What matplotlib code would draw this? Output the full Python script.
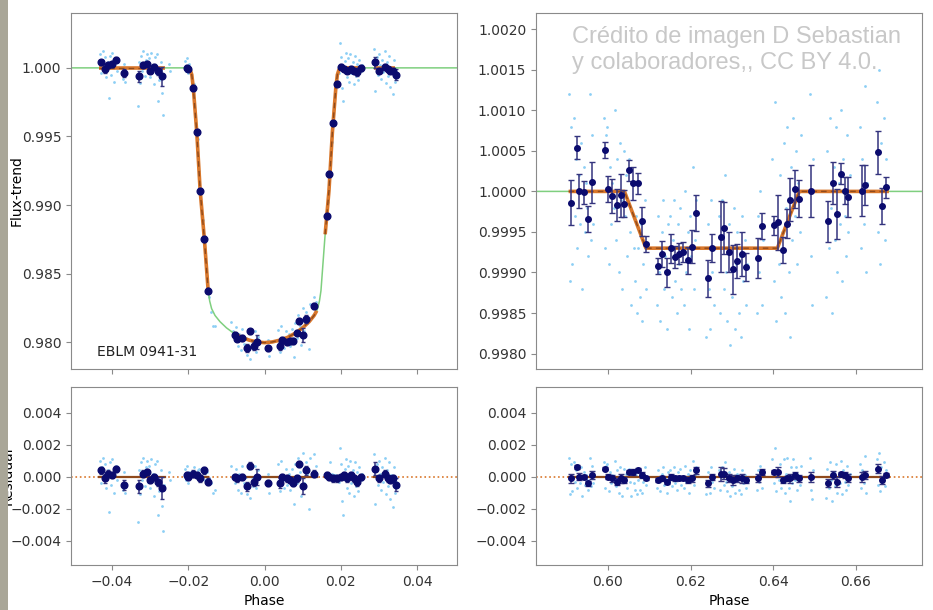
import numpy as np
import matplotlib
matplotlib.use("Agg")
import matplotlib.pyplot as plt
from matplotlib.patches import Rectangle

# ---------------------------------------------------------------------------
# primary eclipse (left) - raw points
lt_phase = [-0.0433, -0.0430, -0.0427, -0.0424, -0.0421, -0.0418, -0.0415, -0.0412, -0.0409, -0.0406,
            -0.0403, -0.0400, -0.0397, -0.0394, -0.0391, -0.0388, -0.0372, -0.0369, -0.0366,
            -0.0333, -0.0330, -0.0327, -0.0324, -0.0321, -0.0318, -0.0315, -0.0312, -0.0309, -0.0306,
            -0.0303, -0.0300, -0.0297, -0.0294, -0.0291, -0.0288, -0.0285, -0.0282, -0.0279, -0.0276,
            -0.0273, -0.0270, -0.0267, -0.0264,
            -0.0251, -0.0249,
            -0.0210, -0.0207, -0.0204, -0.0201, -0.0198,
            -0.0186, -0.0184, -0.0176, -0.0171, -0.0167, -0.0161, -0.0156, -0.0150, -0.0146,
            -0.0140, -0.0135, -0.0130,
            -0.0088, -0.0082, -0.0078, -0.0074, -0.0070, -0.0066, -0.0062, -0.0058, -0.0054, -0.0050,
            -0.0046, -0.0042, -0.0038, -0.0034, -0.0030, -0.0026, -0.0022, -0.0018, 0.0010, 0.0012,
            0.0036, 0.0040, 0.0044, 0.0048, 0.0052, 0.0056, 0.0060, 0.0064, 0.0068, 0.0072,
            0.0076, 0.0080, 0.0084, 0.0088, 0.0092, 0.0096, 0.0100, 0.0104, 0.0108, 0.0112,
            0.0116, 0.0120, 0.0126, 0.0130, 0.0134,
            0.0166, 0.0172, 0.0176, 0.0183, 0.0186,
            0.0195, 0.0198, 0.0201, 0.0204, 0.0207, 0.0210, 0.0213, 0.0216, 0.0219, 0.0222,
            0.0225, 0.0228, 0.0231, 0.0234, 0.0237, 0.0240, 0.0243, 0.0246, 0.0249, 0.0252, 0.0255,
            0.0288, 0.0291, 0.0294, 0.0297, 0.0300, 0.0303, 0.0306, 0.0309, 0.0312, 0.0315,
            0.0318, 0.0321, 0.0324, 0.0327, 0.0330, 0.0333, 0.0336, 0.0339, 0.0342, 0.0345]
lt_flux = [1.0010, 0.9996, 1.0006, 1.0012, 0.9999, 1.0008, 0.9993, 1.0004, 0.9978, 1.0009,
           0.9995, 1.0011, 1.0002, 0.9990, 1.0007, 0.9998, 0.9992, 1.0003, 0.9990,
           0.9972, 1.0004, 0.9989, 1.0009, 0.9998, 1.0012, 0.9994, 1.0006, 1.0010, 0.9997,
           1.0007, 0.9993, 1.0011, 1.0002, 0.9988, 1.0008, 0.9996, 1.0010, 0.9976, 0.9991,
           1.0004, 0.9982, 0.9966, 0.9995,
           1.0003, 0.9998,
           1.0005, 0.9998, 1.0007, 0.9996, 1.0003,
           0.9988, 0.9978, 0.9948, 0.9925, 0.9902, 0.9889, 0.9866, 0.9848, 0.9833,
           0.9822, 0.9812, 0.9812,
           0.9815, 0.9808, 0.9802, 0.9811, 0.9797, 0.9806, 0.9794, 0.9810, 0.9799, 0.9803,
           0.9791, 0.9807, 0.9788, 0.9801, 0.9795, 0.9808, 0.9793, 0.9804, 0.9802, 0.9790,
           0.9809, 0.9793, 0.9812, 0.9800, 0.9796, 0.9808, 0.9799, 0.9806, 0.9797, 0.9810,
           0.9789, 0.9814, 0.9803, 0.9820, 0.9812, 0.9798, 0.9825, 0.9808, 0.9822, 0.9816,
           0.9795, 0.9828, 0.9820, 0.9833, 0.9829,
           0.9902, 0.9934, 0.9946, 0.9972, 0.9983,
           0.9996, 1.0018, 1.0008, 0.9985, 0.9976, 1.0005, 1.0011, 0.9993, 1.0007, 0.9990,
           1.0010, 0.9996, 1.0004, 0.9988, 1.0009, 0.9994, 1.0003, 0.9991, 1.0006, 0.9998, 1.0002,
           1.0014, 0.9983, 1.0008, 0.9995, 1.0010, 1.0002, 0.9992, 1.0006, 0.9997, 1.0012,
           0.9989, 1.0004, 0.9994, 1.0009, 0.9986, 1.0001, 0.9981, 1.0006, 0.9990, 0.9997]
lt_resid = [0.0010, -0.0004, 0.0006, 0.0012, -0.0001, 0.0008, -0.0007, 0.0004, -0.0022, 0.0009,
            -0.0005, 0.0011, 0.0002, -0.0010, 0.0007, -0.0002, -0.0008, 0.0003, -0.0010,
            -0.0028, 0.0004, -0.0011, 0.0009, -0.0002, 0.0012, -0.0006, 0.0006, 0.0010, -0.0003,
            0.0007, -0.0007, 0.0011, 0.0002, -0.0012, 0.0008, -0.0004, 0.0010, -0.0024, -0.0009,
            0.0004, -0.0018, -0.0034, -0.0005,
            0.0003, -0.0002,
            0.0005, -0.0002, 0.0007, -0.0004, 0.0003,
            0.0006, 0.0003, 0.0004, 0.0005, -0.0002, 0.0004, -0.0002, 0.0003, -0.0001,
            -0.0004, -0.0010, -0.0008,
            0.0007, 0.0001, -0.0004, 0.0005, -0.0008, 0.0002, -0.0010, 0.0007, -0.0004, 0.0000,
            -0.0011, 0.0005, -0.0013, 0.0000, -0.0006, 0.0007, -0.0007, 0.0004, 0.0002, -0.0010,
            0.0008, -0.0009, 0.0010, -0.0002, -0.0007, 0.0005, -0.0005, 0.0002, -0.0008, 0.0005,
            -0.0017, 0.0008, -0.0004, 0.0012, 0.0003, -0.0012, 0.0015, -0.0004, 0.0009, 0.0002,
            -0.0020, 0.0012, 0.0002, 0.0014, 0.0007,
            0.0001, 0.0009, 0.0002, 0.0001, 0.0001,
            -0.0003, 0.0018, 0.0008, -0.0015, -0.0024, 0.0005, 0.0011, -0.0007, 0.0007, -0.0010,
            0.0010, -0.0004, 0.0004, -0.0012, 0.0009, -0.0006, 0.0003, -0.0009, 0.0006, -0.0002, 0.0002,
            0.0014, -0.0017, 0.0008, -0.0005, 0.0010, 0.0002, -0.0008, 0.0006, -0.0003, 0.0012,
            -0.0011, 0.0004, -0.0006, 0.0009, -0.0014, 0.0001, -0.0019, 0.0006, -0.0010, -0.0003]

# primary eclipse - binned points
lb_phase = [-0.0428, -0.0419, -0.0410, -0.0400, -0.0390, -0.0368, -0.0329, -0.0320, -0.0309, -0.0301,
            -0.0290, -0.0279, -0.0268,
            -0.0204, -0.0200, -0.0187, -0.0178, -0.0169, -0.0158, -0.0148,
            -0.0078, -0.0072, -0.0060, -0.0047, -0.0038, -0.0028, -0.0021, 0.0010, 0.0040, 0.0047,
            0.0058, 0.0067, 0.0075, 0.0084, 0.0091, 0.0102, 0.0110, 0.0130,
            0.0163, 0.0170, 0.0180, 0.0189,
            0.0200, 0.0208, 0.0217, 0.0226, 0.0235, 0.0243, 0.0252,
            0.0290, 0.0301, 0.0315, 0.0323, 0.0330, 0.0338, 0.0344]
lb_flux = [1.0004, 0.99995, 1.0002, 1.0003, 1.0006, 0.9996, 0.9994, 1.0002, 1.0003, 0.9998,
           1.0001, 0.9998, 0.9994,
           1.0000, 0.99995, 0.99854, 0.99533, 0.99104, 0.98752, 0.98376,
           0.98053, 0.98026, 0.98030, 0.97956, 0.98080, 0.97970, 0.98000, 0.97956, 0.97970, 0.98017,
           0.98000, 0.98010, 0.98010, 0.98070, 0.98155, 0.98053, 0.98170, 0.98265,
           0.98922, 0.99228, 0.99600, 0.99885,
           1.0001, 0.99995, 0.9998, 0.99995, 0.9998, 0.9997, 1.0000,
           1.0004, 0.9998, 1.0001, 0.9999, 0.9998, 0.9998, 0.9995]
lb_resid = [0.0004, -0.0001, 0.0002, 0.0001, 0.0005, -0.0005, -0.0006, 0.0002, 0.0003, -0.0002,
            0.0000, -0.0003, -0.0007,
            0.0001, 0.0000, 0.0002, 0.0001, -0.0001, 0.0004, -0.0003,
            0.0000, -0.0001, 0.0000, -0.0006, 0.0007, -0.0003, 0.0000, -0.0004, -0.0004, 0.0000,
            -0.0001, -0.0002, -0.0004, -0.0001, 0.0008, -0.0006, 0.0004, 0.0002,
            0.0001, 0.0000, -0.0001, -0.0001,
            0.0000, 0.0001, -0.0001, 0.0001, -0.0001, -0.0003, 0.0000,
            0.0005, -0.0001, 0.0002, -0.0001, -0.0002, -0.0001, -0.0005]
lb_err = [0.0002, 0.0003, 0.0002, 0.0002, 0.0002, 0.0003, 0.0004, 0.0002, 0.0002, 0.0002,
          0.0002, 0.0003, 0.0007,
          0.0002, 0.0002, 0.0002, 0.0002, 0.0002, 0.0002, 0.0002,
          0.0002, 0.0002, 0.0002, 0.0003, 0.0002, 0.0003, 0.0005, 0.0002, 0.0003, 0.0002,
          0.0002, 0.0002, 0.0002, 0.0002, 0.0002, 0.0005, 0.0003, 0.0002,
          0.0002, 0.0002, 0.0002, 0.0002,
          0.0002, 0.0002, 0.0002, 0.0002, 0.0002, 0.0003, 0.0002,
          0.0004, 0.0002, 0.0002, 0.0002, 0.0002, 0.0002, 0.0004]

# primary eclipse - model curve
lm_phase = [-0.0510, -0.0435, -0.0262, -0.0207, -0.0200, -0.0195, -0.0191, -0.0187, -0.0178, -0.0169,
            -0.0158, -0.0148, -0.0144, -0.0139, -0.0130, -0.0117, -0.0100, -0.0082, -0.0060, -0.0040,
            -0.0020, 0.0000, 0.0020, 0.0040, 0.0060, 0.0080, 0.0100, 0.0117, 0.0130, 0.0137,
            0.0139, 0.0144, 0.0148, 0.0158, 0.0159, 0.0169, 0.0178, 0.0187, 0.0191, 0.0195,
            0.0200, 0.0256, 0.0288, 0.0342, 0.0510]
lm_flux = [1.0, 1.0, 1.0, 1.0, 1.0, 0.99985, 0.9995, 0.99854, 0.99533, 0.99104,
           0.98752, 0.98376, 0.98300, 0.98245, 0.98195, 0.98150, 0.98105, 0.98068, 0.98035, 0.98015,
           0.98002, 0.97997, 0.98002, 0.98015, 0.98035, 0.98065, 0.98105, 0.98150, 0.98195, 0.98230,
           0.98245, 0.98300, 0.98376, 0.98752, 0.98787, 0.99104, 0.99533, 0.99854, 0.9995, 0.99985,
           1.0, 1.0, 1.0, 1.0, 1.0]
l_fit_ranges = [(-0.0435, -0.0262), (-0.0207, -0.0148), (-0.0082, 0.0137), (0.0159, 0.0256), (0.0288, 0.0342)]

# ---------------------------------------------------------------------------
# secondary eclipse (right) - raw points
rt_phase = [0.5905, 0.5908, 0.5911, 0.5914, 0.5917, 0.5920, 0.5923, 0.5926, 0.5929, 0.5932,
            0.5935, 0.5938, 0.5941, 0.5944, 0.5947, 0.5950, 0.5953, 0.5956, 0.5959, 0.5962, 0.5965,
            0.5990, 0.5993, 0.5996, 0.5999, 0.6002, 0.6005, 0.6008, 0.6011, 0.6014, 0.6017,
            0.6020, 0.6023, 0.6026, 0.6029, 0.6032, 0.6035, 0.6038, 0.6041, 0.6044, 0.6047,
            0.6050, 0.6053, 0.6056, 0.6059, 0.6062, 0.6065, 0.6068, 0.6071, 0.6074, 0.6077,
            0.6080, 0.6083, 0.6086, 0.6089, 0.6092,
            0.6118, 0.6121, 0.6124, 0.6127, 0.6130, 0.6133, 0.6136, 0.6139, 0.6142, 0.6145,
            0.6148, 0.6151, 0.6154, 0.6157, 0.6160, 0.6163, 0.6166, 0.6169, 0.6172, 0.6175,
            0.6178, 0.6181, 0.6184, 0.6187, 0.6190, 0.6193, 0.6196, 0.6199, 0.6202, 0.6205,
            0.6208, 0.6211, 0.6214,
            0.6238, 0.6241, 0.6244, 0.6247, 0.6250, 0.6253, 0.6256,
            0.6268, 0.6271, 0.6274, 0.6277, 0.6280, 0.6283, 0.6286, 0.6289, 0.6292, 0.6295,
            0.6298, 0.6301, 0.6304, 0.6307, 0.6310, 0.6313, 0.6316, 0.6319, 0.6322, 0.6325,
            0.6328, 0.6331, 0.6334, 0.6337,
            0.6360, 0.6363, 0.6366, 0.6369, 0.6372, 0.6375,
            0.6398, 0.6401, 0.6404, 0.6407, 0.6410, 0.6413, 0.6416, 0.6419, 0.6422, 0.6425,
            0.6428, 0.6431, 0.6434, 0.6437, 0.6440, 0.6443, 0.6446, 0.6449, 0.6452, 0.6455,
            0.6458, 0.6461, 0.6464, 0.6467,
            0.6488, 0.6491, 0.6494, 0.6497,
            0.6528, 0.6531, 0.6534, 0.6537, 0.6540, 0.6543, 0.6546, 0.6549, 0.6552, 0.6555,
            0.6558, 0.6561, 0.6564, 0.6567, 0.6570, 0.6573, 0.6576, 0.6579, 0.6582, 0.6585,
            0.6610, 0.6613, 0.6616, 0.6619, 0.6622, 0.6625, 0.6628,
            0.6650, 0.6653, 0.6656, 0.6659, 0.6662, 0.6665, 0.6668, 0.6671, 0.6674]
rt_flux = [1.0012, 0.9989, 1.0008, 0.9991, 1.0009, 0.9997, 1.0004, 0.9993, 1.0002, 0.9996,
           1.0006, 0.9988, 1.0003, 0.9995, 1.0001, 0.9998, 0.9992, 1.0012, 0.9994, 1.0007, 0.9996,
           1.0009, 0.9993, 1.0007, 1.0008, 0.9991, 1.0003, 0.9996, 1.0001, 0.9998, 1.0010,
           0.9994, 1.0004, 0.9990, 1.0006, 0.9999, 0.9988, 1.0005, 0.9997, 1.0002, 0.9992,
           1.0004, 0.9995, 0.9986, 1.0001, 0.9993, 0.9989, 0.9997, 0.9985, 0.9993, 0.9987,
           0.9996, 0.9984, 0.9991, 0.9999, 0.9988,
           0.9986, 0.9997, 0.9990, 0.9984, 0.9995, 0.9999, 0.9988, 0.9992, 0.9983, 0.9996,
           0.9990, 0.9997, 0.9987, 0.9994, 0.9999, 0.9989, 0.9985, 0.9996, 0.9991, 0.9998,
           0.9988, 0.9993, 0.9986, 1.0000, 0.9990, 0.9995, 0.9983, 0.9997, 0.9992, 1.0003,
           0.9988, 0.9994, 0.9999,
           0.9982, 0.9996, 0.9988, 0.9983, 0.9999, 0.9990, 0.9986,
           0.9997, 0.9985, 0.9993, 0.9999, 0.9988, 1.0002, 0.9990, 0.9984, 0.9996, 0.9981,
           0.9993, 0.9987, 0.9998, 0.9983, 0.9991, 0.9995, 0.9985, 0.9992, 0.9982, 0.9997,
           0.9989, 0.9994, 0.9986, 0.9991,
           0.9985, 0.9997, 0.9990, 1.0000, 0.9986, 0.9994,
           1.0004, 0.9989, 1.0011, 0.9984, 0.9996, 0.9991, 1.0002, 0.9987, 0.9995, 1.0006,
           0.9985, 0.9998, 1.0008, 0.9990, 0.9982, 1.0003, 0.9994, 1.0009, 0.9997, 1.0005,
           0.9991, 1.0001, 0.9995, 1.0007,
           1.0012, 0.9992, 0.9986, 1.0004,
           0.9987, 1.0005, 0.9993, 1.0009, 0.9998, 0.9985, 1.0003, 0.9994, 1.0008, 0.9990,
           1.0001, 0.9996, 1.0010, 0.9989, 1.0004, 0.9997, 0.9992, 1.0007, 0.9995, 1.0002,
           1.0008, 0.9993, 1.0004, 0.9996, 1.0013, 0.9990, 1.0001,
           1.0011, 0.9995, 1.0015, 0.9991, 1.0006, 0.9998, 1.0009, 0.9994, 1.0004]
rt_resid = [0.0012, -0.0011, 0.0008, -0.0009, 0.0009, -0.0003, 0.0004, -0.0007, 0.0002, -0.0004,
            0.0006, -0.0012, 0.0003, -0.0005, 0.0001, -0.0002, -0.0008, 0.0012, -0.0006, 0.0007, -0.0004,
            0.0009, -0.0007, 0.0007, 0.0008, -0.0009, 0.0003, -0.0004, 0.0001, -0.0002, 0.0010,
            -0.0006, 0.0004, -0.0010, 0.0006, -0.0001, -0.0012, 0.0005, -0.0003, 0.0002, -0.0007,
            0.0005, -0.0003, -0.0012, 0.0004, -0.0004, -0.0008, 0.0001, -0.0011, -0.0002, -0.0008,
            0.0001, -0.0010, -0.0003, 0.0006, -0.0005,
            -0.0007, 0.0004, -0.0003, -0.0009, 0.0002, 0.0006, -0.0005, -0.0001, -0.0010, 0.0003,
            -0.0003, 0.0004, -0.0006, 0.0001, 0.0006, -0.0004, -0.0008, 0.0003, -0.0002, 0.0005,
            -0.0005, 0.0000, -0.0007, 0.0007, -0.0003, 0.0002, -0.0010, 0.0004, -0.0001, 0.0010,
            -0.0005, 0.0001, 0.0006,
            -0.0011, 0.0003, -0.0005, -0.0010, 0.0006, -0.0003, -0.0007,
            0.0004, -0.0008, 0.0000, 0.0006, -0.0005, 0.0009, -0.0003, -0.0009, 0.0003, -0.0012,
            0.0000, -0.0006, 0.0005, -0.0010, -0.0002, 0.0002, -0.0008, -0.0001, -0.0011, 0.0004,
            -0.0004, 0.0001, -0.0007, -0.0002,
            -0.0008, 0.0004, -0.0003, 0.0007, -0.0007, 0.0001,
            0.0011, -0.0004, 0.0018, -0.0009, 0.0003, -0.0002, 0.0008, -0.0007, 0.0000, 0.0011,
            -0.0010, 0.0002, 0.0012, -0.0007, -0.0015, 0.0006, -0.0004, 0.0011, -0.0002, 0.0006,
            -0.0008, 0.0001, -0.0005, 0.0007,
            0.0012, -0.0008, -0.0014, 0.0004,
            -0.0013, 0.0005, -0.0007, 0.0009, -0.0002, -0.0015, 0.0003, -0.0006, 0.0008, -0.0010,
            0.0001, -0.0004, 0.0010, -0.0011, 0.0004, -0.0003, -0.0008, 0.0007, -0.0005, 0.0002,
            0.0008, -0.0007, 0.0004, -0.0004, 0.0013, -0.0010, 0.0001,
            0.0011, -0.0005, 0.0015, -0.0009, 0.0006, -0.0002, 0.0009, -0.0006, 0.0004]

# secondary eclipse - binned points
rb_phase = [0.5911, 0.5924, 0.5931, 0.5941, 0.5951, 0.5961, 0.5992, 0.6001, 0.6011, 0.6021,
            0.6032, 0.6040, 0.6052, 0.6061, 0.6072, 0.6082, 0.6091, 0.6122, 0.6132, 0.6142,
            0.6152, 0.6162, 0.6173, 0.6182, 0.6193, 0.6203, 0.6213, 0.6243, 0.6253, 0.6273,
            0.6281, 0.6294, 0.6303, 0.6313, 0.6324, 0.6334, 0.6364, 0.6372, 0.6403, 0.6412,
            0.6423, 0.6433, 0.6441, 0.6453, 0.6463, 0.6492, 0.6532, 0.6544, 0.6554, 0.6564,
            0.6574, 0.6582, 0.6615, 0.6623, 0.6653, 0.6663, 0.6673]
rb_flux = [0.99986, 1.00054, 1.00001, 0.99999, 0.99966, 1.00011, 1.00051, 1.00003, 0.99994, 0.99983,
           0.99995, 0.99985, 1.00026, 1.00010, 1.00010, 0.99963, 0.99935, 0.99908, 0.99923, 0.99900,
           0.99930, 0.99919, 0.99923, 0.99925, 0.99915, 0.99932, 0.99973, 0.99893, 0.99930, 0.99944,
           0.99955, 0.99925, 0.99904, 0.99914, 0.99923, 0.99907, 0.99918, 0.99957, 0.99958, 0.99962,
           0.99928, 0.99960, 0.99990, 1.00003, 0.99991, 1.00000, 0.99963, 1.00010, 0.99972, 1.00022,
           1.00001, 0.99993, 1.00001, 1.00008, 1.00048, 0.99982, 1.00005]
rb_resid = [-0.0001, 0.0006, 0.0000, 0.0000, -0.0004, 0.0001, 0.0005, 0.0000, -0.0001, -0.0003,
            -0.0001, -0.0002, 0.0003, 0.0003, 0.0004, 0.0001, -0.0001, -0.0002, -0.0001, -0.0003,
            0.0000, -0.0001, -0.0001, -0.0001, -0.0002, -0.0001, 0.0004, -0.0004, 0.0000, 0.0002,
            0.0002, -0.0001, -0.0002, -0.0001, -0.0001, -0.0002, -0.0001, 0.0003, 0.0003, 0.0003,
            -0.0002, -0.0001, -0.0001, 0.0001, -0.0001, 0.0000, -0.0004, 0.0001, -0.0003, 0.0002,
            0.0001, -0.0001, 0.0000, 0.0001, 0.0005, -0.0002, 0.0001]
rb_err = [0.00028, 0.00014, 0.00021, 0.00014, 0.00016, 0.00025, 0.00010, 0.00016, 0.00021, 0.00020,
          0.00027, 0.00017, 0.00013, 0.00020, 0.00013, 0.00018, 0.00010, 0.00010, 0.00016, 0.00018,
          0.00018, 0.00014, 0.00013, 0.00012, 0.00017, 0.00020, 0.00022, 0.00023, 0.00017, 0.00044,
          0.00032, 0.00025, 0.00030, 0.00021, 0.00027, 0.00017, 0.00025, 0.00016, 0.00012, 0.00034,
          0.00016, 0.00018, 0.00026, 0.00023, 0.00023, 0.00032, 0.00025, 0.00026, 0.00031, 0.00013,
          0.00017, 0.00025, 0.00031, 0.00025, 0.00027, 0.00022, 0.00013]

# secondary eclipse - model curve
rm_phase = [0.5826, 0.5905, 0.6040, 0.6092, 0.6410, 0.6463, 0.6680, 0.6760]
rm_flux = [1.0, 1.0, 1.0, 0.9993, 0.9993, 1.0, 1.0, 1.0]
r_fit_ranges = [(0.5905, 0.6680)]

# STYLE -----------------------------------------------------------------------
RAW = '#8ccff5'
NAVY = '#0b0b6e'
EBAR = '#34347e'
GREEN = '#7fcf7f'
ORANGE = '#d9772b'
BROWN = '#8f4a1c'
SPINE = '#8a8a8a'

plt.rcParams['font.family'] = 'DejaVu Sans'
plt.rcParams['font.size'] = 10
plt.rcParams['axes.formatter.useoffset'] = False

fig = plt.figure(figsize=(9.33, 6.10), dpi=100)
W, H = 933.0, 610.0
ax1 = fig.add_axes([71 / W, (H - 369) / H, 386 / W, 356 / H])
ax2 = fig.add_axes([536 / W, (H - 369) / H, 386 / W, 356 / H])
ax3 = fig.add_axes([71 / W, (H - 565) / H, 386 / W, 178 / H])
ax4 = fig.add_axes([536 / W, (H - 565) / H, 386 / W, 178 / H])


def fit_line(ax, phase, flux, ranges):
    phase = np.asarray(phase)
    flux = np.asarray(flux)
    ax.plot(phase, flux, color=GREEN, lw=1.1, zorder=2)
    for lo, hi in ranges:
        m = (phase >= lo - 1e-9) & (phase <= hi + 1e-9)
        ax.plot(phase[m], flux[m], color=ORANGE, lw=2.6, zorder=3, solid_capstyle='butt')
        ax.plot(phase[m], flux[m], color=BROWN, lw=1.0, ls=(0, (4, 3)), zorder=3.1)


def zero_line(ax, ranges):
    ax.axhline(0, color=ORANGE, lw=1.2, ls=':', zorder=2)
    for lo, hi in ranges:
        ax.plot([lo, hi], [0, 0], color=BROWN, lw=1.6, zorder=2.5)


def style(ax):
    for s in ax.spines.values():
        s.set_color(SPINE)
    ax.tick_params(colors='#333333', labelsize=10, length=3.5)
    ax.tick_params(axis='both', color=SPINE)


# top left
ax1.scatter(lt_phase, lt_flux, s=4, color=RAW, lw=0, zorder=1)
fit_line(ax1, lm_phase, lm_flux, l_fit_ranges)
ax1.errorbar(lb_phase, lb_flux, yerr=lb_err, fmt='o', ms=4.8, color=NAVY, ecolor=EBAR,
             elinewidth=1.1, capsize=1.5, zorder=4)
ax1.set_xlim(-0.0508, 0.0505)
ax1.set_ylim(0.97805, 1.0040)
ax1.set_yticks([0.980, 0.985, 0.990, 0.995, 1.000])
ax1.set_xticks([-0.04, -0.02, 0.00, 0.02, 0.04])
ax1.tick_params(labelbottom=False)
ax1.set_ylabel('Flux-trend')
ax1.yaxis.set_label_coords(-0.124, 0.5)
ax1.text(0.067, 0.048, 'EBLM 0941-31', transform=ax1.transAxes, fontsize=10, va='center',
         color='#222222')
style(ax1)

# top right
ax2.scatter(rt_phase, rt_flux, s=4, color=RAW, lw=0, zorder=1)
fit_line(ax2, rm_phase, rm_flux, r_fit_ranges)
ax2.errorbar(rb_phase, rb_flux, yerr=rb_err, fmt='o', ms=4, color=NAVY, ecolor=EBAR,
             elinewidth=1.1, capsize=2, zorder=4)
ax2.set_xlim(0.5826, 0.6760)
ax2.set_ylim(0.99781, 1.0022)
ax2.set_yticks([0.9980, 0.9985, 0.9990, 0.9995, 1.0000, 1.0005, 1.0010, 1.0015, 1.0020])
ax2.set_xticks([0.60, 0.62, 0.64, 0.66])
ax2.tick_params(labelbottom=False)
style(ax2)

# bottom left
ax3.scatter(lt_phase, lt_resid, s=4, color=RAW, lw=0, zorder=1)
zero_line(ax3, l_fit_ranges)
ax3.errorbar(lb_phase, lb_resid, yerr=lb_err, fmt='o', ms=4.8, color=NAVY, ecolor=EBAR,
             elinewidth=1.1, capsize=1.5, zorder=4)
ax3.set_xlim(-0.0508, 0.0505)
ax3.set_ylim(-0.0055, 0.0056)
ax3.set_yticks([-0.004, -0.002, 0.000, 0.002, 0.004])
ax3.set_xticks([-0.04, -0.02, 0.00, 0.02, 0.04])
ax3.set_xlabel('Phase')
ax3.set_ylabel('Residual')
ax3.yaxis.set_label_coords(-0.147, 0.5)
style(ax3)

# bottom right
ax4.scatter(rt_phase, rt_resid, s=4, color=RAW, lw=0, zorder=1)
zero_line(ax4, r_fit_ranges)
ax4.errorbar(rb_phase, rb_resid, yerr=rb_err, fmt='o', ms=4, color=NAVY, ecolor=EBAR,
             elinewidth=1.1, capsize=2, zorder=4)
ax4.set_xlim(0.5826, 0.6760)
ax4.set_ylim(-0.0055, 0.0056)
ax4.set_yticks([-0.004, -0.002, 0.000, 0.002, 0.004])
ax4.set_xticks([0.60, 0.62, 0.64, 0.66])
ax4.set_xlabel('Phase')
style(ax4)

# credit overlay and photo strip at the left edge
credit_lines = ['Crédito de imagen D Sebastian', 'y colaboradores,, CC BY 4.0.']
for line, base in zip(credit_lines, [42.5, 68.5]):
    fig.text(572 / W, 1 - base / H, line, family='Liberation Sans', fontsize=17,
             color='#c8c8c8', va='baseline', ha='left')
fig.add_artist(Rectangle((0, 0), 8 / W, 1, transform=fig.transFigure,
                         facecolor='#a9a698', edgecolor='none', zorder=10))

fig.savefig('out.png', dpi=100)
